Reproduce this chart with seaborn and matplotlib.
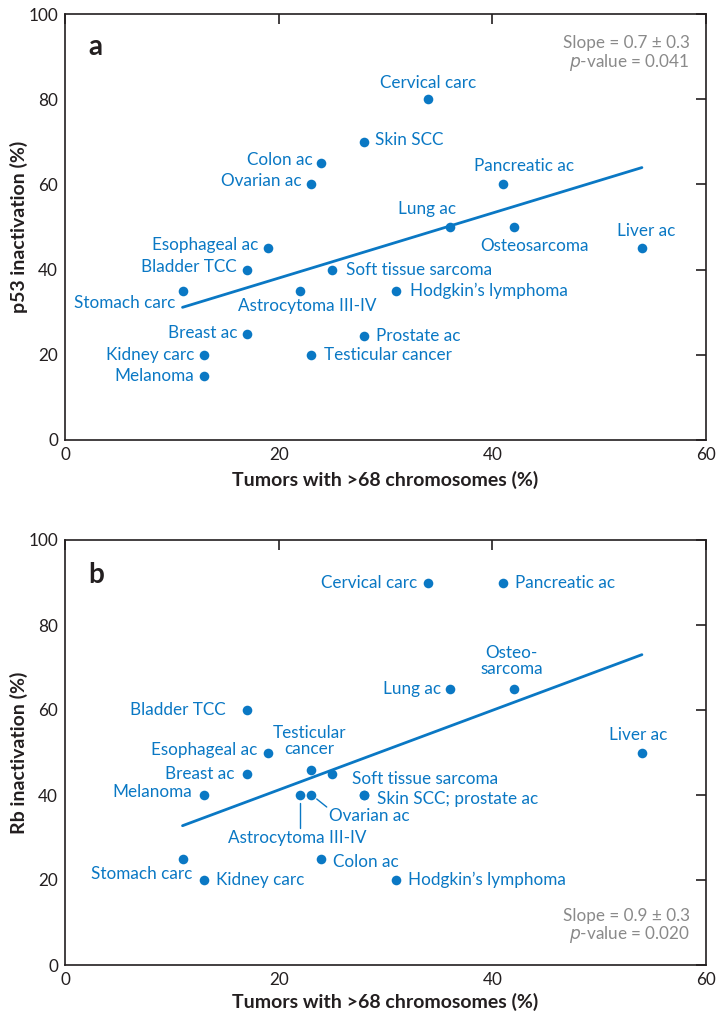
import numpy as np
import pandas as pd
import matplotlib
matplotlib.use("Agg")
import matplotlib.pyplot as plt
import seaborn as sns

# ---------------- data ----------------
a_names = ["Cervical carc", "Skin SCC", "Colon ac", "Ovarian ac", "Pancreatic ac",
           "Lung ac", "Osteosarcoma", "Liver ac", "Esophageal ac", "Bladder TCC",
           "Soft tissue sarcoma", "Stomach carc", "Astrocytoma III-IV",
           "Hodgkin’s lymphoma", "Breast ac", "Prostate ac", "Kidney carc",
           "Testicular cancer", "Melanoma"]
a_x = [34, 28, 24, 23, 41, 36, 42, 54, 19, 17, 25, 11, 22, 31, 17, 28, 13, 23, 13]
a_y = [80, 70, 65, 60, 60, 50, 50, 45, 45, 40, 40, 35, 35, 35, 25, 24.5, 20, 20, 15]

b_names = ["Cervical carc", "Pancreatic ac", "Lung ac", "Osteosarcoma", "Bladder TCC",
           "Liver ac", "Esophageal ac", "Breast ac", "Testicular cancer",
           "Soft tissue sarcoma", "Melanoma", "Astrocytoma III-IV", "Ovarian ac",
           "Skin SCC", "Prostate ac", "Stomach carc", "Colon ac", "Kidney carc",
           "Hodgkin’s lymphoma"]
b_x = [34, 41, 36, 42, 17, 54, 19, 17, 23, 25, 13, 22, 23, 28, 28, 11, 24, 13, 31]
b_y = [90, 90, 65, 65, 60, 50, 50, 45, 46, 45, 40, 40, 40, 40, 40, 25, 25, 20, 20]

a_stats = ["Slope = 0.7 ± 0.3", "-value = 0.041"]
b_stats = ["Slope = 0.9 ± 0.3", "-value = 0.020"]
x_label = "Tumors with >68 chromosomes (%)"
a_ylabel = "p53 inactivation (%)"
b_ylabel = "Rb inactivation (%)"
x_ticks = [0, 20, 40, 60]
y_ticks = [0, 20, 40, 60, 80, 100]

# ---------------- style / layout ----------------
sns.set_theme(style="white")
plt.rcParams["font.family"] = ["Lato", "DejaVu Sans"]

BLUE = "#0a78c4"
DARK = "#231f20"
GRAY = "#8a8a8a"
PX = 0.72  # pixels -> points at dpi 100

# label placement: name -> (dx px, dy px up, ha, display text)
a_lab = {
    "Cervical carc": (0, 16, "center", None),
    "Skin SCC": (11, 2, "left", None),
    "Colon ac": (-9, 3, "right", None),
    "Ovarian ac": (-9, 3, "right", None),
    "Pancreatic ac": (21, 18, "center", None),
    "Lung ac": (-23, 18, "center", None),
    "Osteosarcoma": (21, -19, "center", None),
    "Liver ac": (4, 17, "center", None),
    "Esophageal ac": (-10, 3, "right", None),
    "Bladder TCC": (-10, 3, "right", None),
    "Soft tissue sarcoma": (14, 0, "left", None),
    "Stomach carc": (-7, -12, "right", None),
    "Astrocytoma III-IV": (7, -15, "center", None),
    "Hodgkin’s lymphoma": (14, 0, "left", None),
    "Breast ac": (-9, 1, "right", None),
    "Prostate ac": (12, 0, "left", None),
    "Kidney carc": (-10, 0, "right", None),
    "Testicular cancer": (13, 0, "left", None),
    "Melanoma": (-10, 0, "right", None),
}
b_lab = {
    "Cervical carc": (-11, 0, "right", None),
    "Pancreatic ac": (12, 0, "left", None),
    "Lung ac": (-8, 0, "right", None),
    "Osteosarcoma": (-2, 28, "center", "Osteo-\nsarcoma"),
    "Bladder TCC": (-21, 0, "right", None),
    "Liver ac": (-4, 18, "center", None),
    "Esophageal ac": (-11, 2, "right", None),
    "Breast ac": (-12, 0, "right", None),
    "Testicular cancer": (-1, 28, "center", "Testicular\ncancer"),
    "Soft tissue sarcoma": (20, -5, "left", None),
    "Melanoma": (-12, 3, "right", None),
    "Astrocytoma III-IV": (-3, -43, "center", None),
    "Ovarian ac": (18, -21, "left", None),
    "Skin SCC": (13, -4, "left", "Skin SCC; prostate ac"),
    "Stomach carc": (10, -15, "right", None),
    "Colon ac": (12, -3, "left", None),
    "Kidney carc": (12, 0, "left", None),
    "Hodgkin’s lymphoma": (12, 0, "left", None),
}

fig = plt.figure(figsize=(7.17, 10.14), dpi=100)
ax_a = fig.add_axes([65 / 717, 1 - 440 / 1014, 641 / 717, 426 / 1014])
ax_b = fig.add_axes([65 / 717, 1 - 965 / 1014, 641 / 717, 425 / 1014])


def draw(ax, names, xs, ys, labs, ylabel, stats, stats_y, letter, xlab_y):
    df = pd.DataFrame({"name": names, "x": xs, "y": ys})
    sns.regplot(data=df, x="x", y="y", ax=ax, ci=None, truncate=True,
                scatter_kws=dict(s=48, color=BLUE, alpha=1, linewidths=0, zorder=3),
                line_kws=dict(color=BLUE, lw=2.0, zorder=2))
    for _, r in df.iterrows():
        if r["name"] not in labs:
            continue
        dx, dy, ha, txt = labs[r["name"]]
        ax.annotate(txt if txt else r["name"], (r["x"], r["y"]),
                    xytext=(dx * PX, dy * PX), textcoords="offset points",
                    ha=ha, va="center", color=BLUE, fontsize=12.3,
                    linespacing=1.0)
    ax.set_xlim(0, 60)
    ax.set_ylim(0, 100)
    ax.set_xticks(x_ticks)
    ax.set_yticks(y_ticks)
    ax.tick_params(direction="in", length=7, width=1.2, top=True, right=True,
                   labelsize=12.3, colors=DARK, pad=5)
    for s in ax.spines.values():
        s.set_color(DARK)
        s.set_linewidth(1.2)
        s.set_visible(True)
    ax.set_xlabel(x_label, fontsize=14, fontweight="bold", color=DARK, va="center")
    ax.xaxis.set_label_coords(0.5, xlab_y)
    ax.set_ylabel(ylabel, fontsize=14, fontweight="bold", color=DARK, va="center")
    ax.yaxis.set_label_coords(-0.072, 0.5)
    ax.text(0.036, letter[1], letter[0], transform=ax.transAxes, fontsize=20,
            fontweight="bold", color=DARK, va="center", ha="left")
    ax.text(58.5, stats_y[0], stats[0], ha="right", va="center", color=GRAY,
            fontsize=12.3)
    ax.text(58.5, stats_y[1], r"$\it{p}$" + stats[1], ha="right", va="center",
            color=GRAY, fontsize=12.3)
    ax.set_facecolor("white")


draw(ax_a, a_names, a_x, a_y, a_lab, a_ylabel, a_stats, (93.2, 88.7), ("a", 0.922), -0.094)
draw(ax_b, b_names, b_x, b_y, b_lab, b_ylabel, b_stats, (11.5, 7.1), ("b", 0.918), -0.087)

# leader lines in panel b
ax_b.plot([22, 22], [40 - 8 / 4.25, 40 - 33 / 4.25], color=BLUE, lw=1.0)
ax_b.plot([23 + 6 / 10.68, 23 + 16 / 10.68], [40 - 4 / 4.25, 40 - 12 / 4.25],
          color=BLUE, lw=1.0)

fig.savefig("out.png", dpi=100, facecolor="white")
